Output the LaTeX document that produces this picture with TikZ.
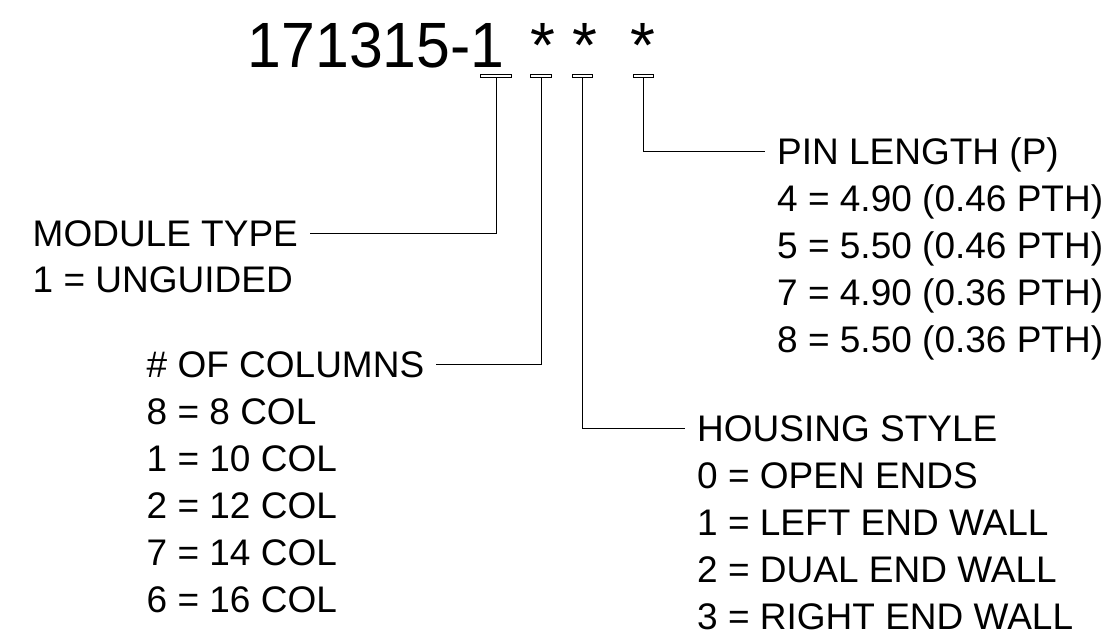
\documentclass[tikz,border=0pt]{standalone}
\usepackage{fontspec}
\usepackage{graphicx}
\setmainfont{Liberation Sans}
\usetikzlibrary{positioning}

\begin{document}
\begin{tikzpicture}[x=1pt, y=1pt,
    head/.style={font=\fontsize{37}{47}\selectfont, inner sep=0pt, text height=26.5pt, text depth=0pt, anchor=west},
    opts/.style={font=\fontsize{37}{47}\selectfont, inner sep=0pt, align=left},
    big/.style={font=\fontsize{64}{70}\selectfont, inner sep=0pt},
    fieldbar/.style={draw, line width=0.8pt, inner sep=0pt, minimum height=3pt},
    wire/.style={line width=0.8pt, shorten >=12pt},
]
    \useasboundingbox (0,0) rectangle (1120,636);

    % part number
    \node[big, anchor=base west] (part) at (247.5,568) {\scalebox{0.95}[1]{171315-1}};
    \node[big, anchor=base] (star1) at (543,568) {*};
    \node[big, anchor=base] (star2) at (585,568) {*};
    \node[big, anchor=base] (star3) at (643,568) {*};

    \node[fieldbar, minimum width=31pt] (bar1) at (496,560.5) {};
    \node[fieldbar, minimum width=21pt] (bar2) at (541,560.5) {};
    \node[fieldbar, minimum width=20pt] (bar3) at (582,560.5) {};
    \node[fieldbar, minimum width=20pt] (bar4) at (643,560.5) {};

    % field descriptions
    \node[head] (mod) at (32.5,403) {MODULE TYPE};
    \node[opts, below=20.5pt of mod.south west, anchor=north west] (modlist) {1 = UNGUIDED};

    \node[head] (cols) at (146.5,271.5) {\# OF COLUMNS};
    \node[opts, below=20.5pt of cols.south west, anchor=north west] (colslist) {
        8 = 8 COL\\
        1 = 10 COL\\
        2 = 12 COL\\
        7 = 14 COL\\
        6 = 16 COL
    };

    \node[head] (hous) at (697,207.5) {HOUSING STYLE};
    \node[opts, below=20.5pt of hous.south west, anchor=north west] (houslist) {
        0 = OPEN ENDS\\
        1 = LEFT END WALL\\
        2 = DUAL END WALL\\
        3 = RIGHT END WALL
    };

    \node[head] (pin) at (777,485) {PIN LENGTH (P)};
    \node[opts, below=20.5pt of pin.south west, anchor=north west] (pinlist) {
        4 = 4.90 (0.46 PTH)\\
        5 = 5.50 (0.46 PTH)\\
        7 = 4.90 (0.36 PTH)\\
        8 = 5.50 (0.36 PTH)
    };

    \draw[wire] (bar1.south) |- (mod.east);
    \draw[wire] (bar2.south) |- (cols.east);
    \draw[wire] (bar3.south) |- (hous.west);
    \draw[wire] (bar4.south) |- (pin.west);
\end{tikzpicture}
\end{document}
